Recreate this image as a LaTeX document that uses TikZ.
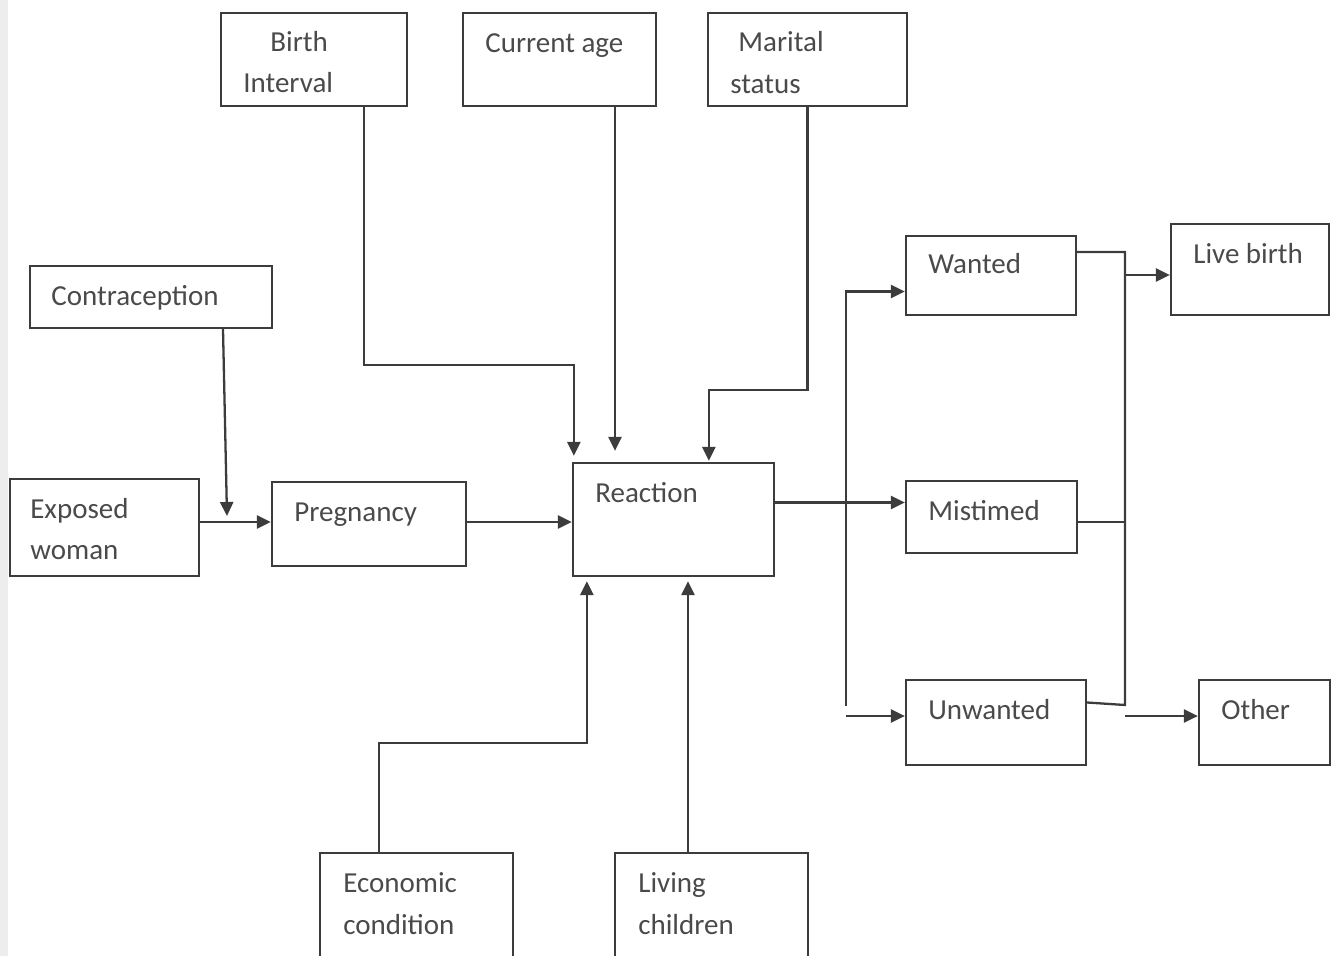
\documentclass[tikz,border=0pt]{standalone}
\usepackage{fontspec}
\setmainfont{Carlito}
\usetikzlibrary{arrows.meta,calc,fit}
\definecolor{ln}{HTML}{3C3C3C}
\definecolor{tx}{HTML}{4A4A4A}
\begin{document}
\begin{tikzpicture}[x=0.02cm,y=-0.02cm,
  box/.style={draw=ln, line width=1.3pt, inner sep=0pt, rectangle},
  txt/.style={text=tx, font=\fontsize{16.5}{20}\selectfont, inner sep=0pt, anchor=base west},
  arr/.style={draw=ln, line width=1.3pt, -{Triangle[length=8pt,width=7.5pt]}},
  ln/.style={draw=ln, line width=1.3pt}]
\useasboundingbox (0,0) rectangle (1338,956);
\fill[black!7] (0,0) rectangle (8,956);
% boxes
\node[box, fit={(221,13)(407,106)}] (birth) {};
\node[box, fit={(463,13)(656,106)}] (cur) {};
\node[box, fit={(708,13)(907,106)}] (ms) {};
\node[box, fit={(30,266)(272,328)}] (contra) {};
\node[box, fit={(10,479)(199,576)}] (ew) {};
\node[box, fit={(272,482)(466,566)}] (preg) {};
\node[box, fit={(573,463)(774,576)}] (reac) {};
\node[box, fit={(906,236)(1076,315)}] (want) {};
\node[box, fit={(906,481)(1077,553)}] (mist) {};
\node[box, fit={(906,680)(1086,765)}] (unw) {};
\node[box, fit={(1171,224)(1329,315)}] (live) {};
\node[box, fit={(1199,680)(1330,765)}] (oth) {};
\node[box, fit={(320,853)(513,960)}] (econ) {};
\node[box, fit={(615,853)(808,960)}] (liv) {};
% texts
\node[txt] (birth-t1) at (270,52) {Birth};
\node[txt] (birth-t2) at (243,93) {Interval};
\node[txt] (cur-t) at (485,53) {Current age};
\node[txt] (ms-t1) at (738,52) {Marital};
\node[txt] (ms-t2) at (730,94) {status};
\node[txt] (contra-t) at (51,305) {Contraception};
\node[txt] (ew-t1) at (30,518) {Exposed};
\node[txt] (ew-t2) at (30,559) {woman};
\node[txt] (preg-t) at (294,521) {Pregnancy};
\node[txt] (reac-t) at (595,502) {Reaction};
\node[txt] (want-t) at (928,274) {Wanted};
\node[txt] (mist-t) at (928,520) {Mistimed};
\node[txt] (unw-t) at (928,719) {Unwanted};
\node[txt] (live-t) at (1193,263) {Live birth};
\node[txt] (oth-t) at (1221,719) {Other};
\node[txt] (econ-t1) at (343,892) {Economic};
\node[txt] (econ-t2) at (343,934) {condition};
\node[txt] (liv-t1) at (638,892) {Living};
\node[txt] (liv-t2) at (638,934) {children};
% connectors
\draw[arr] ($(ew.east)+(0,-5.5)$) coordinate (ewp) -- (ewp -| preg.west);
\coordinate (cj) at (227,516);
\draw[arr] ($(contra.south)+(72,0)$) -- (cj);
\draw[arr] ($(preg.east)+(0,-2)$) coordinate (prp) -- (prp -| reac.west);
\draw[arr] ($(birth.south)+(50,0)$) -- ++(0,258) -| ($(reac.north west)+(2,-6)$);
\draw[arr] ($(cur.south)+(55.5,0)$) coordinate (ca) -- ($(ca |- reac.north)+(0,-11)$);
\draw[arr] (ms.south) -- ++(0,283) -| ($(reac.north west)+(137,-1)$);
\draw[arr] ($(reac.east)+(0,-17)$) coordinate (re) -- (re -| mist.west);
\coordinate (vb) at (846,706);
\draw[arr] (vb) |- ($(want.west)+(0,16)$);
\coordinate (ua) at (846,716);
\draw[arr] (ua) -- (ua -| unw.west);
\coordinate (rt) at (1125,252);
\coordinate (rb) at (1125,705);
\draw[ln] ($(want.east)+(0,-23.5)$) -- (rt) -- (rb) -- ($(unw.east)+(0,-20)$);
\draw[ln] ($(mist.east)+(0,5)$) coordinate (me) -- (me -| rt);
\coordinate (lb) at ($(live.west)+(0,5.5)$);
\draw[arr] (lb -| rt) -- (lb);
\coordinate (ot) at ($(oth.west)+(0,-6.5)$);
\draw[arr] (ot -| rt) -- (ot);
\draw[arr] ($(econ.north)+(-37.5,0)$) -- ++(0,-109) -| ($(reac.south west)+(15,4)$);
\draw[arr] ($(liv.north)+(-23.5,0)$) coordinate (lv) -- ($(lv |- reac.south)+(0,4)$);
\end{tikzpicture}
\end{document}
